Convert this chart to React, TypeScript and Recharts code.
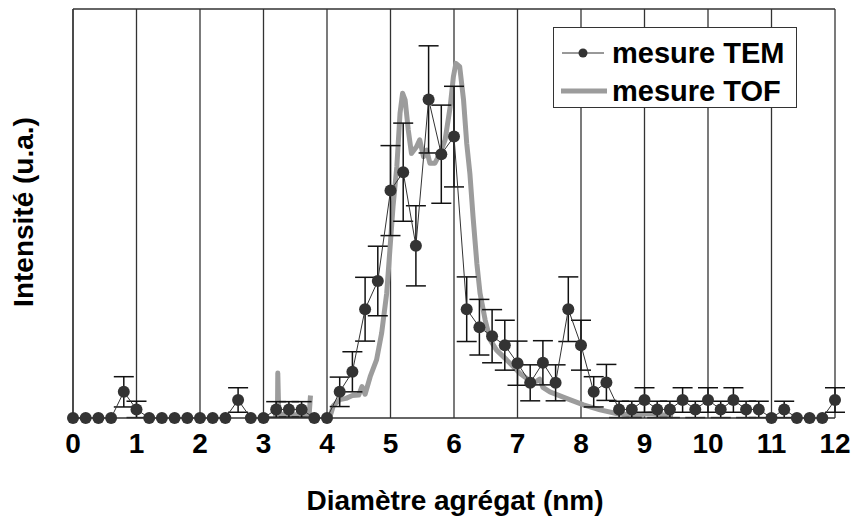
import {
  ComposedChart,
  Line,
  XAxis,
  YAxis,
  CartesianGrid,
  ErrorBar,
  ReferenceLine,
} from 'recharts';

// TEM: diameter classes (nm), intensity and error bar half-height
const diameters = [
  0, 0.2, 0.4, 0.6, 0.8, 1, 1.2, 1.4, 1.6, 1.8, 2, 2.2, 2.4, 2.6, 2.8, 3, 3.2, 3.4, 3.6, 3.8,
  4, 4.2, 4.4, 4.6, 4.8, 5, 5.2, 5.4, 5.6, 5.8, 6, 6.2, 6.4, 6.6, 6.8, 7, 7.2, 7.4, 7.6, 7.8,
  8, 8.2, 8.4, 8.6, 8.8, 9, 9.2, 9.4, 9.6, 9.8, 10, 10.2, 10.4, 10.6, 10.8, 11, 11.2, 11.4, 11.6, 11.8, 12,
];
const temValues = [
  0, 0, 0, 0, 6.4, 2.1, 0, 0, 0, 0, 0, 0, 0, 4.4, 0, 0, 2.1, 2.1, 2.1, 0,
  0, 6.4, 11.3, 26.6, 33.5, 55.6, 60.1, 42.1, 77.9, 64.5, 68.8, 26.6, 22.2, 20, 17.8, 13.4, 8.6, 13.5, 8.6, 26.6,
  17.8, 6.4, 8.7, 2.1, 2.1, 4.4, 2.1, 2.1, 4.4, 2.1, 4.4, 2.1, 4.4, 2.1, 2.1, 0, 2.1, 0, 0, 0, 4.4,
];
const temErrors = [
  0, 0, 0, 0, 3.7, 2, 0, 0, 0, 0, 0, 0, 0, 3, 0, 0, 1.9, 1.9, 1.9, 0,
  0, 3.6, 4.9, 7.8, 8.5, 11, 12, 9.8, 13.1, 12, 12.3, 7.9, 6.8, 6.5, 6.1, 5.4, 4.4, 5.4, 4.4, 7.9,
  6.1, 3.7, 4.4, 2, 2, 3, 2, 2, 3, 2, 3, 2, 3, 2, 2, 0, 2, 0, 0, 0, 3,
];

// TOF: continuous trace (null = gap)
const tofDiameters = [
  3.15, 3.22, 3.225, 3.24, 3.4, 3.6, 3.72, 3.74, 3.75,
  4.05, 4.1, 4.2, 4.3, 4.4, 4.5, 4.55, 4.6, 4.68, 4.78, 4.86, 4.94, 4.99,
  5.04, 5.1, 5.15, 5.19, 5.23, 5.28, 5.33, 5.41, 5.46, 5.52, 5.57, 5.62, 5.7, 5.78, 5.86, 5.94, 5.99,
  6.03, 6.09, 6.15, 6.2, 6.25, 6.3, 6.36, 6.41, 6.49, 6.57, 6.67, 6.83,
  7.04, 7.25, 7.35, 7.4, 7.51, 7.77, 8.04, 8.3, 8.56, 8.82, 9.09, 9.45,
];
const tofValues = [
  1, 1, 11, 1, 0.8, 0.8, 1, 5.5, null,
  0.5, 3, 4.5, 4.8, 5.5, 5.6, 7.7, 5.8, 10.1, 14.2, 20.7, 30.5, 41,
  51.7, 61.5, 74.5, 79.4, 77.8, 70.4, 64.7, 66.3, 68, 63.9, 65.5, 62.3, 62.3, 64.7, 68, 76.1, 83.4,
  86.7, 85.9, 77.8, 67.2, 59.8, 49.2, 37.8, 30.5, 24, 19.1, 16.6, 14.2,
  10.9, 8.5, 9.5, 7.5, 6.4, 4.8, 3.2, 2, 1.1, 0.7, 1.1, 0.5,
];

const xTicks = [0, 1, 2, 3, 4, 5, 6, 7, 8, 9, 10, 11, 12];

const temData = diameters.map((d, i) => ({ d, v: temValues[i], e: temErrors[i] }));
const tofData = tofDiameters.map((d, i) => ({ d, v: tofValues[i] }));

const FONT = '"Liberation Sans", Arial, sans-serif';
const DARK = '#333333';
const GREY = '#9c9c9c';

const XTick = ({ x, payload }: { x: number; payload: { value: number } }) => (
  <text x={x} y={453} textAnchor="middle" fontSize={28} fontWeight="bold" fontFamily={FONT} fill="#000">
    {payload.value}
  </text>
);

export default function App() {
  return (
    <div style={{ position: 'absolute', left: 0, top: 0, width: 854, height: 524, background: '#fff' }}>
      <ComposedChart width={854} height={524} margin={{ top: 9, right: 19, left: 0, bottom: 0 }}>
        <CartesianGrid horizontal={false} stroke={DARK} strokeWidth={1.3} />
        <XAxis
          dataKey="d"
          type="number"
          domain={[0, 12]}
          ticks={xTicks}
          height={106}
          tickLine={false}
          axisLine={{ stroke: DARK, strokeWidth: 1.3 }}
          tick={XTick}
          label={{
            content: () => (
              <text x={455} y={510} textAnchor="middle" fontSize={28} fontWeight="bold" fontFamily={FONT} fill="#000">
                Diamètre agrégat (nm)
              </text>
            ),
          }}
        />
        <YAxis
          type="number"
          domain={[0, 100]}
          width={73}
          tick={false}
          tickLine={false}
          axisLine={{ stroke: DARK, strokeWidth: 1.3 }}
          label={{
            content: () => (
              <text
                x={33}
                y={212}
                transform="rotate(-90, 33, 212)"
                textAnchor="middle"
                fontSize={28}
                fontWeight="bold"
                fontFamily={FONT}
                fill="#000"
              >
                Intensité (u.a.)
              </text>
            ),
          }}
        />
        <ReferenceLine y={100} stroke={DARK} strokeWidth={1.3} />
        <Line
          data={tofData}
          dataKey="v"
          type="linear"
          stroke={GREY}
          strokeWidth={5}
          strokeLinejoin="round"
          dot={false}
          connectNulls={false}
          isAnimationActive={false}
        />
        <Line
          data={temData}
          dataKey="v"
          type="linear"
          stroke={DARK}
          strokeWidth={1}
          dot={{ r: 6, fill: DARK, stroke: DARK, strokeWidth: 0 }}
          isAnimationActive={false}
        >
          <ErrorBar dataKey="e" direction="y" width={10} stroke="#111" strokeWidth={1.5} />
        </Line>
      </ComposedChart>
      <div
        style={{
          position: 'absolute',
          left: 553,
          top: 27,
          width: 242,
          height: 79,
          border: `1.5px solid ${DARK}`,
          background: '#fff',
          fontFamily: FONT,
          fontWeight: 'bold',
          fontSize: 29,
          color: '#000',
        }}
      >
        <div style={{ position: 'absolute', left: 8, top: 8, display: 'flex', alignItems: 'center', height: 34 }}>
          <svg width={44} height={12}>
            <line x1={0} y1={6} x2={42} y2={6} stroke={DARK} strokeWidth={1} />
            <circle cx={21} cy={6} r={4.5} fill={DARK} />
          </svg>
          <span style={{ marginLeft: 6, lineHeight: '34px' }}>mesure TEM</span>
        </div>
        <div style={{ position: 'absolute', left: 7, top: 46, display: 'flex', alignItems: 'center', height: 34 }}>
          <svg width={46} height={12}>
            <line x1={0} y1={6} x2={46} y2={6} stroke={GREY} strokeWidth={5} />
          </svg>
          <span style={{ marginLeft: 5, lineHeight: '34px' }}>mesure TOF</span>
        </div>
      </div>
    </div>
  );
}
